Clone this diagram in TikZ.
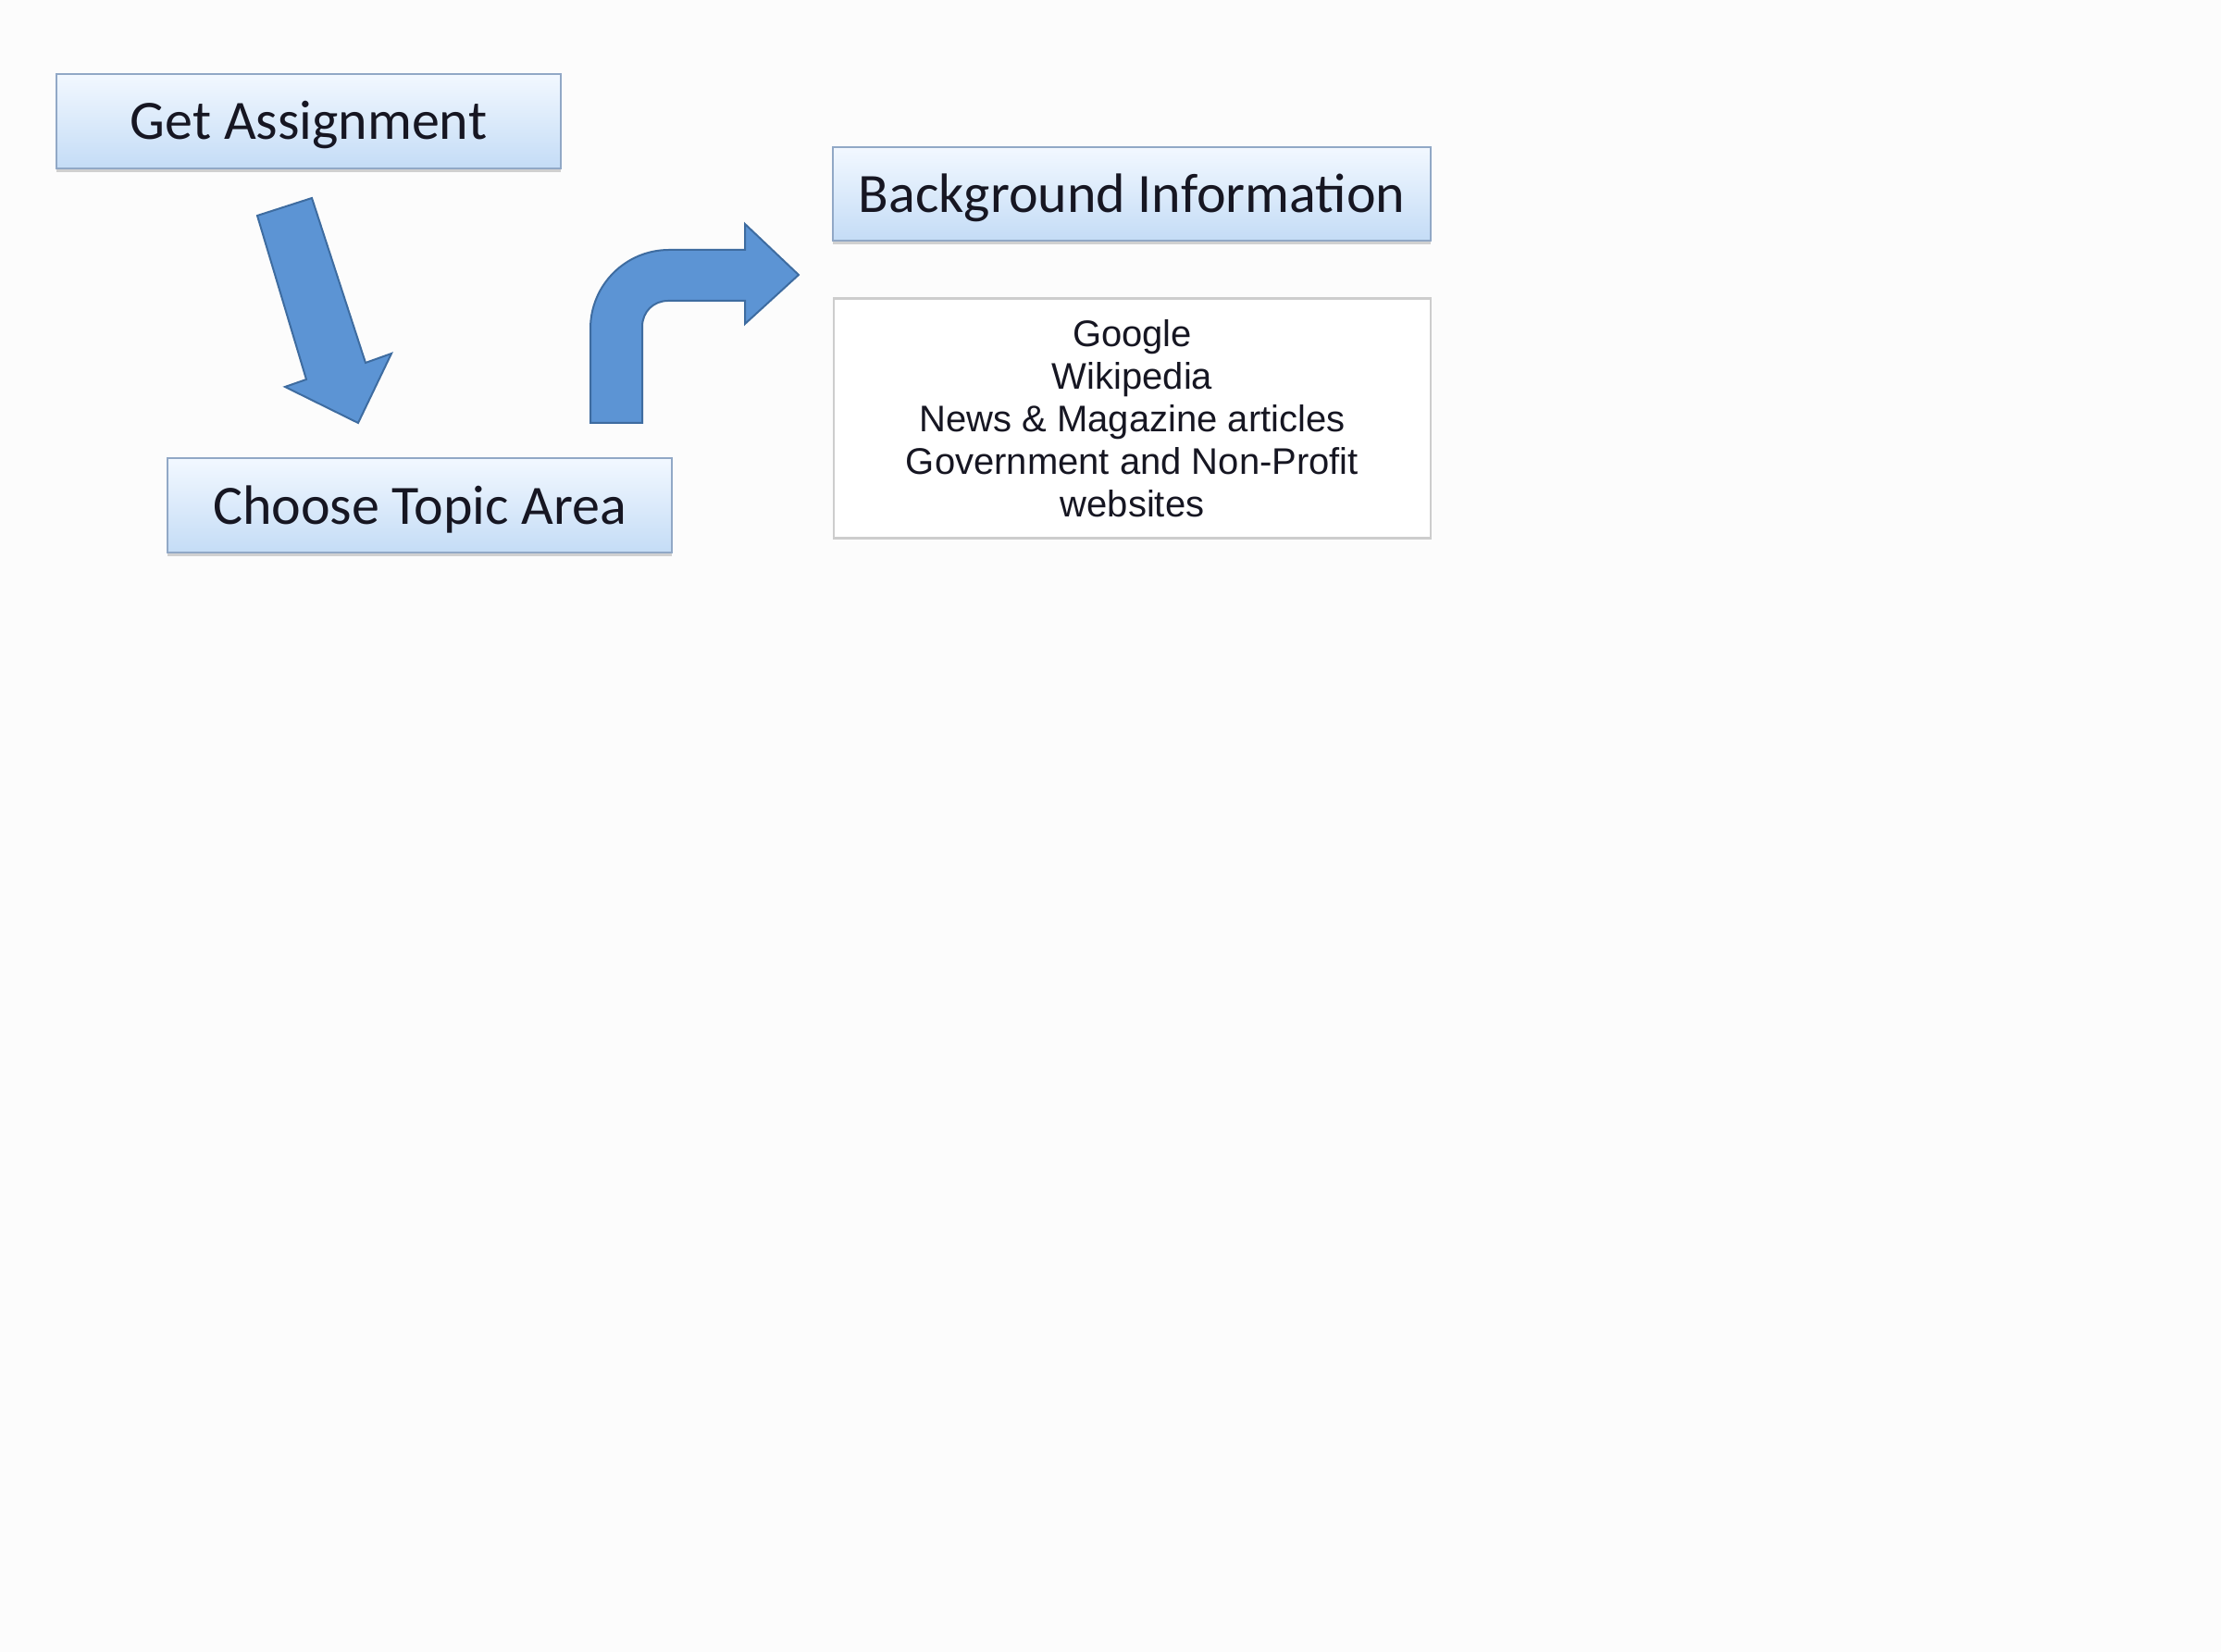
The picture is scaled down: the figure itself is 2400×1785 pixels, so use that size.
\documentclass[tikz,border=0pt]{standalone}
\usepackage{fontspec}
\setmainfont{Carlito}
\newfontfamily\arialfont{Liberation Sans}
\usetikzlibrary{shadows}
\definecolor{pagebg}{RGB}{252,252,252}
\definecolor{boxtop}{RGB}{242,248,255}
\definecolor{boxbot}{RGB}{196,220,246}
\definecolor{boxline}{RGB}{145,168,198}
\definecolor{arrowfill}{RGB}{92,148,212}
\definecolor{arrowline}{RGB}{62,108,160}
\definecolor{txt}{RGB}{22,22,34}
\definecolor{listline}{RGB}{205,205,205}
\tikzset{
  stepbox/.style={draw=boxline, line width=0.6pt, shading=axis, top color=boxtop, bottom color=boxbot,
    minimum width=163.5pt, minimum height=30.6pt, inner sep=0pt, text=txt,
    text height=14.3pt, text depth=2.5pt,
    font=\fontsize{18}{21.6}\selectfont,
    drop shadow={shadow xshift=0pt, shadow yshift=-1.2pt, opacity=0.35, fill=gray}},
  listbox/.style={draw=listline, line width=0.7pt, fill=white, minimum width=193.5pt, minimum height=77.7pt,
    inner sep=0pt, align=center, text=txt, font=\arialfont\fontsize{12}{13.8}\selectfont},
  blockarrow/.style={fill=arrowfill, draw=arrowline, line width=0.6pt, line join=miter}
}
\begin{document}
\begin{tikzpicture}[x=0.3pt,y=-0.3pt]
\fill[pagebg] (0,0) rectangle (2400,1785);
\useasboundingbox (0,0) rectangle (2400,1785);
\node[stepbox] (get) at (333.5,131) {Get Assignment};
\node[stepbox] (topic) at (453.5,546.5) {Choose Topic Area};
\node[stepbox, minimum width=193.8pt, minimum height=30.3pt] (bg) at (1223,209.5) {Background Information};
\node[listbox] (list) at (1223.5,452) {Google\\Wikipedia\\News \& Magazine articles\\Government and Non-Profit\\websites};
% down arrow from Get Assignment to Choose Topic Area
\draw[blockarrow] (278,233) -- (337,214) -- (395,392) -- (423,382) -- (387,457) -- (308,418) -- (331,410) -- cycle;
% bent arrow towards Background Information
\draw[blockarrow] (638,457) -- (638,355) .. controls (638,308) and (676,270) .. (723,270) -- (805,270) -- (805,242)
  -- (863,297) -- (805,350) -- (805,325) -- (722,325) .. controls (706,325) and (694,337) .. (694,353) -- (694,457) -- cycle;
\end{tikzpicture}
\end{document}
